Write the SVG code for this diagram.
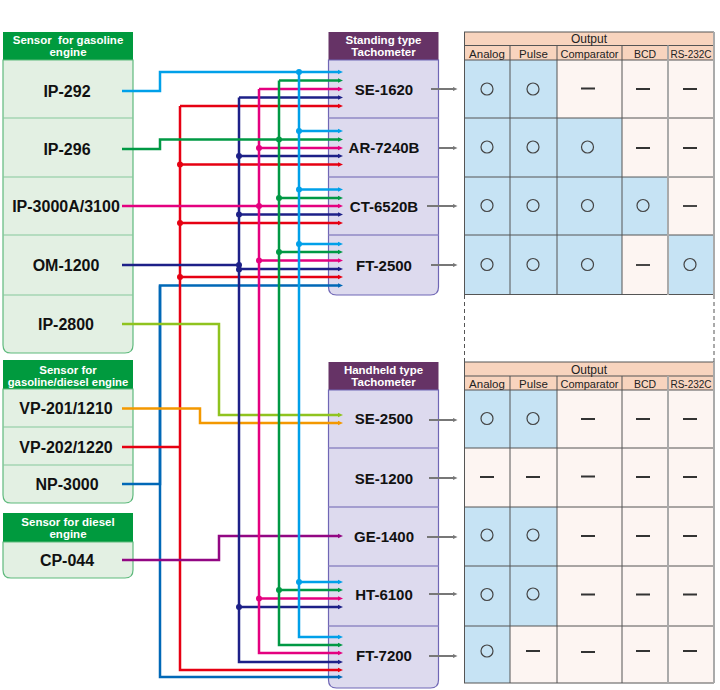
<svg xmlns="http://www.w3.org/2000/svg" width="720" height="690" viewBox="0 0 720 690">
<style>
.hdrG{fill:#009a3e}
.hdrP{fill:#663366}
.bodyG{fill:#e3f0e3;stroke:#5fba7d;stroke-width:1.2}
.bodyP{fill:#dddaee;stroke:#6f66b5;stroke-width:1.2}
.divG{stroke:#86c89c;stroke-width:1.2}
.divP{stroke:#8f88c4;stroke-width:1.5}
.ht{font-family:"Liberation Sans",Arial,sans-serif;font-weight:bold;font-size:11.5px;fill:#fff;text-anchor:middle}
.sl{font-family:"Liberation Sans",Arial,sans-serif;font-weight:bold;font-size:16px;fill:#111;text-anchor:middle}
.tl{font-family:"Liberation Sans",Arial,sans-serif;font-weight:bold;font-size:15px;fill:#111;text-anchor:middle}
.th{font-family:"Liberation Sans",Arial,sans-serif;font-size:11.5px;fill:#222;text-anchor:middle}
.ob{fill:#c6e3f4}
.op{fill:#fdf5f2}
.oh{fill:#f8d4be}
.grid{stroke:#555;stroke-width:1;fill:none}
.grid2{stroke:#aaa;stroke-width:2;fill:none}
.circ{fill:none;stroke:#444;stroke-width:1.2}
.dash{stroke:#333;stroke-width:1.8}
.ga{stroke:#777;stroke-width:2;fill:none;marker-end:url(#mGray)}
.w{fill:none;stroke-width:2.5}
.lb{stroke:#00a0e9}.gr{stroke:#009944}.pk{stroke:#e4007f}.nv{stroke:#1d2088}.rd{stroke:#e60012}.bl{stroke:#0068b7}.yg{stroke:#8fc31f}.or{stroke:#f39800}.pu{stroke:#920783}
.a-lb{marker-end:url(#mLb)}.a-gr{marker-end:url(#mGr)}.a-pk{marker-end:url(#mPk)}.a-nv{marker-end:url(#mNv)}.a-rd{marker-end:url(#mRd)}.a-bl{marker-end:url(#mBl)}.a-yg{marker-end:url(#mYg)}.a-or{marker-end:url(#mOr)}.a-pu{marker-end:url(#mPu)}
</style>
<defs>
<marker id="mLb" markerUnits="userSpaceOnUse" markerWidth="6" markerHeight="6" viewBox="0 0 6 6" refX="0.5" refY="3" orient="auto"><path d="M0,0.5 L5.5,3 L0,5.5z" fill="#00a0e9"/></marker>
<marker id="mGr" markerUnits="userSpaceOnUse" markerWidth="6" markerHeight="6" viewBox="0 0 6 6" refX="0.5" refY="3" orient="auto"><path d="M0,0.5 L5.5,3 L0,5.5z" fill="#009944"/></marker>
<marker id="mPk" markerUnits="userSpaceOnUse" markerWidth="6" markerHeight="6" viewBox="0 0 6 6" refX="0.5" refY="3" orient="auto"><path d="M0,0.5 L5.5,3 L0,5.5z" fill="#e4007f"/></marker>
<marker id="mNv" markerUnits="userSpaceOnUse" markerWidth="6" markerHeight="6" viewBox="0 0 6 6" refX="0.5" refY="3" orient="auto"><path d="M0,0.5 L5.5,3 L0,5.5z" fill="#1d2088"/></marker>
<marker id="mRd" markerUnits="userSpaceOnUse" markerWidth="6" markerHeight="6" viewBox="0 0 6 6" refX="0.5" refY="3" orient="auto"><path d="M0,0.5 L5.5,3 L0,5.5z" fill="#e60012"/></marker>
<marker id="mBl" markerUnits="userSpaceOnUse" markerWidth="6" markerHeight="6" viewBox="0 0 6 6" refX="0.5" refY="3" orient="auto"><path d="M0,0.5 L5.5,3 L0,5.5z" fill="#0068b7"/></marker>
<marker id="mYg" markerUnits="userSpaceOnUse" markerWidth="6" markerHeight="6" viewBox="0 0 6 6" refX="0.5" refY="3" orient="auto"><path d="M0,0.5 L5.5,3 L0,5.5z" fill="#8fc31f"/></marker>
<marker id="mOr" markerUnits="userSpaceOnUse" markerWidth="6" markerHeight="6" viewBox="0 0 6 6" refX="0.5" refY="3" orient="auto"><path d="M0,0.5 L5.5,3 L0,5.5z" fill="#f39800"/></marker>
<marker id="mPu" markerUnits="userSpaceOnUse" markerWidth="6" markerHeight="6" viewBox="0 0 6 6" refX="0.5" refY="3" orient="auto"><path d="M0,0.5 L5.5,3 L0,5.5z" fill="#920783"/></marker>
<marker id="mGray" markerUnits="userSpaceOnUse" markerWidth="6" markerHeight="6" viewBox="0 0 6 6" refX="0.5" refY="3" orient="auto"><path d="M0,0.8 L5,3 L0,5.2z" fill="#777"/></marker>
</defs>
<rect width="720" height="690" fill="#fff"/>

<!-- Sensor panel 1 -->
<g id="sensor-gasoline">
<rect class="hdrG" x="3" y="32" width="130" height="28"/>
<text class="ht" x="68" y="43.5" style="white-space:pre">Sensor  for gasoline</text>
<text class="ht" x="68" y="56">engine</text>
<path class="bodyG" d="M3,60 H133 V345 Q133,353 125,353 H11 Q3,353 3,345 Z"/>
<line class="divG" x1="3" y1="118" x2="133" y2="118"/>
<line class="divG" x1="3" y1="177" x2="133" y2="177"/>
<line class="divG" x1="3" y1="235" x2="133" y2="235"/>
<line class="divG" x1="3" y1="295" x2="133" y2="295"/>
</g>
<g id="IP-292"><text class="sl" x="67" y="97">IP-292</text></g>
<g id="IP-296"><text class="sl" x="67" y="155">IP-296</text></g>
<g id="IP-3000A"><text class="sl" x="66" y="212">IP-3000A/3100</text></g>
<g id="OM-1200"><text class="sl" x="66" y="271">OM-1200</text></g>
<g id="IP-2800"><text class="sl" x="66" y="330">IP-2800</text></g>

<!-- Sensor panel 2 -->
<g id="sensor-gasoline-diesel">
<rect class="hdrG" x="3" y="360" width="130" height="29"/>
<text class="ht" x="68" y="373.5">Sensor for</text>
<text class="ht" x="68" y="386" style="font-size:11.3px">gasoline/diesel engine</text>
<path class="bodyG" d="M3,389 H133 V495 Q133,503 125,503 H11 Q3,503 3,495 Z"/>
<line class="divG" x1="3" y1="427" x2="133" y2="427"/>
<line class="divG" x1="3" y1="465" x2="133" y2="465"/>
</g>
<g id="VP-201"><text class="sl" x="66" y="414">VP-201/1210</text></g>
<g id="VP-202"><text class="sl" x="66" y="453">VP-202/1220</text></g>
<g id="NP-3000"><text class="sl" x="67" y="490">NP-3000</text></g>

<!-- Sensor panel 3 -->
<g id="sensor-diesel">
<rect class="hdrG" x="3" y="513" width="130" height="29"/>
<text class="ht" x="68" y="525.5">Sensor for diesel</text>
<text class="ht" x="68" y="538">engine</text>
<path class="bodyG" d="M3,542 H133 V570 Q133,578 125,578 H11 Q3,578 3,570 Z"/>
</g>
<g id="CP-044"><text class="sl" x="67" y="566">CP-044</text></g>

<!-- Standing tachometer -->
<g id="standing-tachometer">
<rect class="hdrP" x="328.5" y="32" width="110" height="28"/>
<text class="ht" x="383.5" y="43.5">Standing type</text>
<text class="ht" x="383.5" y="56">Tachometer</text>
<path class="bodyP" d="M328.5,60 H438.5 V287 Q438.5,295 430.5,295 H336.5 Q328.5,295 328.5,287 Z"/>
<line class="divP" x1="328.5" y1="118" x2="438.5" y2="118"/>
<line class="divP" x1="328.5" y1="177" x2="438.5" y2="177"/>
<line class="divP" x1="328.5" y1="235" x2="438.5" y2="235"/>
</g>
<g id="SE-1620"><text class="tl" x="384" y="94.5">SE-1620</text><path class="ga" d="M431,89 H453"/></g>
<g id="AR-7240B"><text class="tl" x="384" y="153">AR-7240B</text><path class="ga" d="M439,148 H453"/></g>
<g id="CT-6520B"><text class="tl" x="384" y="211.5">CT-6520B</text><path class="ga" d="M427,206 H453"/></g>
<g id="FT-2500"><text class="tl" x="384" y="270.5">FT-2500</text><path class="ga" d="M431,265 H453"/></g>

<!-- Handheld tachometer -->
<g id="handheld-tachometer">
<rect class="hdrP" x="328.5" y="362" width="110" height="28"/>
<text class="ht" x="383.5" y="373.5">Handheld type</text>
<text class="ht" x="383.5" y="386">Tachometer</text>
<path class="bodyP" d="M328.5,390 H438.5 V680 Q438.5,688 430.5,688 H336.5 Q328.5,688 328.5,680 Z"/>
<line class="divP" x1="328.5" y1="448" x2="438.5" y2="448"/>
<line class="divP" x1="328.5" y1="507" x2="438.5" y2="507"/>
<line class="divP" x1="328.5" y1="566" x2="438.5" y2="566"/>
<line class="divP" x1="328.5" y1="626" x2="438.5" y2="626"/>
</g>
<g id="SE-2500"><text class="tl" x="384" y="424">SE-2500</text><path class="ga" d="M429,420 H453"/></g>
<g id="SE-1200"><text class="tl" x="384" y="484">SE-1200</text><path class="ga" d="M429,478 H453"/></g>
<g id="GE-1400"><text class="tl" x="384" y="542">GE-1400</text><path class="ga" d="M427,537 H453"/></g>
<g id="HT-6100"><text class="tl" x="384" y="600">HT-6100</text><path class="ga" d="M429,594 H453"/></g>
<g id="FT-7200"><text class="tl" x="384" y="661">FT-7200</text><path class="ga" d="M429,656 H453"/></g>

<!-- Output table top -->
<g id="output-standing">
<rect class="oh" x="464" y="32" width="250" height="28"/>
<rect class="ob" x="464" y="60" width="93" height="235"/>
<rect class="op" x="557" y="60" width="157" height="58"/>
<rect class="ob" x="557" y="118" width="65" height="117"/>
<rect class="op" x="622" y="118" width="92" height="58"/>
<rect class="ob" x="622" y="177" width="46" height="58"/>
<rect class="op" x="668" y="177" width="46" height="58"/>
<rect class="ob" x="557" y="235" width="65" height="60"/>
<rect class="op" x="622" y="235" width="46" height="60"/>
<rect class="ob" x="668" y="235" width="46" height="60"/>
<path class="grid" d="M464,32 H714 M464,45.5 H714 M464,60 H714 M464,118 H714 M464,177 H714 M464,235 H714 M464,294.5 H714 M464.5,32 V295 M510,45.5 V295 M557,45.5 V295 M622,45.5 V295"/>
<path class="grid2" d="M668,45.5 V295 M714,32 V295"/>
<text class="th" x="589" y="43" style="font-size:12px">Output</text>
<text class="th" x="487" y="57.5">Analog</text>
<text class="th" x="533.5" y="57.5">Pulse</text>
<text class="th" x="589.5" y="57.5" style="font-size:11px">Comparator</text>
<text class="th" x="645" y="57.5" style="font-size:10.5px">BCD</text>
<text class="th" x="691" y="57.5" style="font-size:10px">RS-232C</text>
<circle class="circ" cx="487" cy="89" r="6"/><circle class="circ" cx="533" cy="89" r="6"/>
<path class="dash" d="M581,88.5 H595 M636,89 H650 M683,89 H697"/>
<circle class="circ" cx="487" cy="147" r="6"/><circle class="circ" cx="533" cy="147" r="6"/><circle class="circ" cx="587.5" cy="147" r="6"/>
<path class="dash" d="M636,148 H650 M683,148 H697"/>
<circle class="circ" cx="487" cy="205.5" r="6"/><circle class="circ" cx="533" cy="205.5" r="6"/><circle class="circ" cx="587.5" cy="205.5" r="6"/><circle class="circ" cx="643" cy="205.5" r="6"/>
<path class="dash" d="M683,206 H697"/>
<circle class="circ" cx="487" cy="264.5" r="6"/><circle class="circ" cx="533" cy="264.5" r="6"/><circle class="circ" cx="587.5" cy="264.5" r="6"/><circle class="circ" cx="690" cy="264.5" r="6"/>
<path class="dash" d="M636,265 H650"/>
</g>
<path d="M464.5,295 V362 M714,295 V362" stroke="#555" stroke-width="1" stroke-dasharray="4,3" fill="none"/>

<!-- Output table bottom -->
<g id="output-handheld">
<rect class="oh" x="464" y="362" width="250" height="28"/>
<rect class="op" x="464" y="390" width="250" height="293"/>
<rect class="ob" x="464" y="390" width="93" height="58"/>
<rect class="ob" x="464" y="507" width="93" height="119"/>
<rect class="ob" x="464" y="626" width="46" height="57"/>
<path class="grid" d="M464,362 H714 M464,376 H714 M464,390 H714 M464,448 H714 M464,507 H714 M464,566 H714 M464,626 H714 M464,683 H714 M464.5,362 V683 M510,376 V683 M557,376 V683 M622,376 V683"/>
<path class="grid2" d="M668,376 V683 M714,362 V683"/>
<text class="th" x="589" y="373.5" style="font-size:12px">Output</text>
<text class="th" x="487" y="388">Analog</text>
<text class="th" x="533.5" y="388">Pulse</text>
<text class="th" x="589.5" y="388" style="font-size:11px">Comparator</text>
<text class="th" x="645" y="388" style="font-size:10.5px">BCD</text>
<text class="th" x="691" y="388" style="font-size:10px">RS-232C</text>
<circle class="circ" cx="487" cy="418.5" r="6"/><circle class="circ" cx="533" cy="418.5" r="6"/>
<path class="dash" d="M581,419 H595 M636,419 H650 M683,419 H697"/>
<path class="dash" d="M480,477 H494 M526,477 H540 M581,476.5 H595 M636,477 H650 M683,477 H697"/>
<circle class="circ" cx="487" cy="535" r="6"/><circle class="circ" cx="533" cy="535" r="6"/>
<path class="dash" d="M581,536 H595 M636,536 H650 M683,536 H697"/>
<circle class="circ" cx="487" cy="594.5" r="6"/><circle class="circ" cx="533" cy="594" r="6"/>
<path class="dash" d="M581,594.5 H595 M636,594.5 H650 M683,594.5 H697"/>
<circle class="circ" cx="487" cy="651" r="6"/>
<path class="dash" d="M526,651 H540 M581,652 H595 M636,651 H650 M683,651 H697"/>
</g>

<!-- Connectors -->
<g id="connectors">
<path class="w bl a-bl" d="M122,484 H160 V285.5 H338"/>
<path class="w bl a-bl" d="M160,285.5 V677 H338"/>
<path class="w rd" d="M122,447 H180"/>
<path class="w rd a-rd" d="M180,106 H338"/>
<path class="w rd a-rd" d="M180,106 V670 H338"/>
<path class="w rd a-rd" d="M180,164.5 H338"/>
<path class="w rd a-rd" d="M180,223 H338"/>
<path class="w rd a-rd" d="M180,277 H338"/>
<path class="w or a-or" d="M122,408.5 H200 V423 H338"/>
<path class="w yg a-yg" d="M122,324 H219 V415 H338"/>
<path class="w pu a-pu" d="M122,560 H219 V536 H338"/>
<path class="w nv" d="M122,265 H239"/>
<path class="w nv a-nv" d="M239,97.5 H338"/>
<path class="w nv a-nv" d="M239,97.5 V662 H338"/>
<path class="w nv a-nv" d="M239,156 H338"/>
<path class="w nv a-nv" d="M239,214.5 H338"/>
<path class="w nv a-nv" d="M239,269 H338"/>
<path class="w nv a-nv" d="M239,607 H338"/>
<path class="w pk a-pk" d="M122,206 H338"/>
<path class="w pk a-pk" d="M259,89 H338"/>
<path class="w pk a-pk" d="M259,89 V653 H338"/>
<path class="w pk a-pk" d="M259,148 H338"/>
<path class="w pk a-pk" d="M259,260.5 H338"/>
<path class="w pk a-pk" d="M259,598.5 H338"/>
<path class="w gr a-gr" d="M122,149 H160 V139.5 H338"/>
<path class="w gr a-gr" d="M279,80.5 H338"/>
<path class="w gr a-gr" d="M279,80.5 V645 H338"/>
<path class="w gr a-gr" d="M279,198 H338"/>
<path class="w gr a-gr" d="M279,252 H338"/>
<path class="w gr a-gr" d="M279,590 H338"/>
<path class="w lb a-lb" d="M122,91 H160 V72 H338"/>
<path class="w lb a-lb" d="M299,72 V637 H338"/>
<path class="w lb a-lb" d="M299,131 H338"/>
<path class="w lb a-lb" d="M299,189.5 H338"/>
<path class="w lb a-lb" d="M299,244 H338"/>
<path class="w lb a-lb" d="M299,582 H338"/>
<g fill="#e60012"><circle cx="180" cy="164.5" r="3"/><circle cx="180" cy="223" r="3"/><circle cx="180" cy="277" r="3"/></g>
<g fill="#1d2088"><circle cx="239" cy="156" r="3"/><circle cx="239" cy="214.5" r="3"/><circle cx="239" cy="265" r="3"/><circle cx="239" cy="269.5" r="3"/><circle cx="239" cy="607" r="3"/></g>
<g fill="#e4007f"><circle cx="259" cy="148" r="3"/><circle cx="259" cy="206" r="3"/><circle cx="259" cy="260.5" r="3"/><circle cx="259" cy="598.5" r="3"/></g>
<g fill="#009944"><circle cx="279" cy="139.5" r="3"/><circle cx="279" cy="198" r="3"/><circle cx="279" cy="252" r="3"/><circle cx="279" cy="590" r="3"/></g>
<g fill="#00a0e9"><circle cx="299" cy="72" r="3"/><circle cx="299" cy="131" r="3"/><circle cx="299" cy="189.5" r="3"/><circle cx="299" cy="244" r="3"/><circle cx="299" cy="582" r="3"/></g>
</g>
</svg>
